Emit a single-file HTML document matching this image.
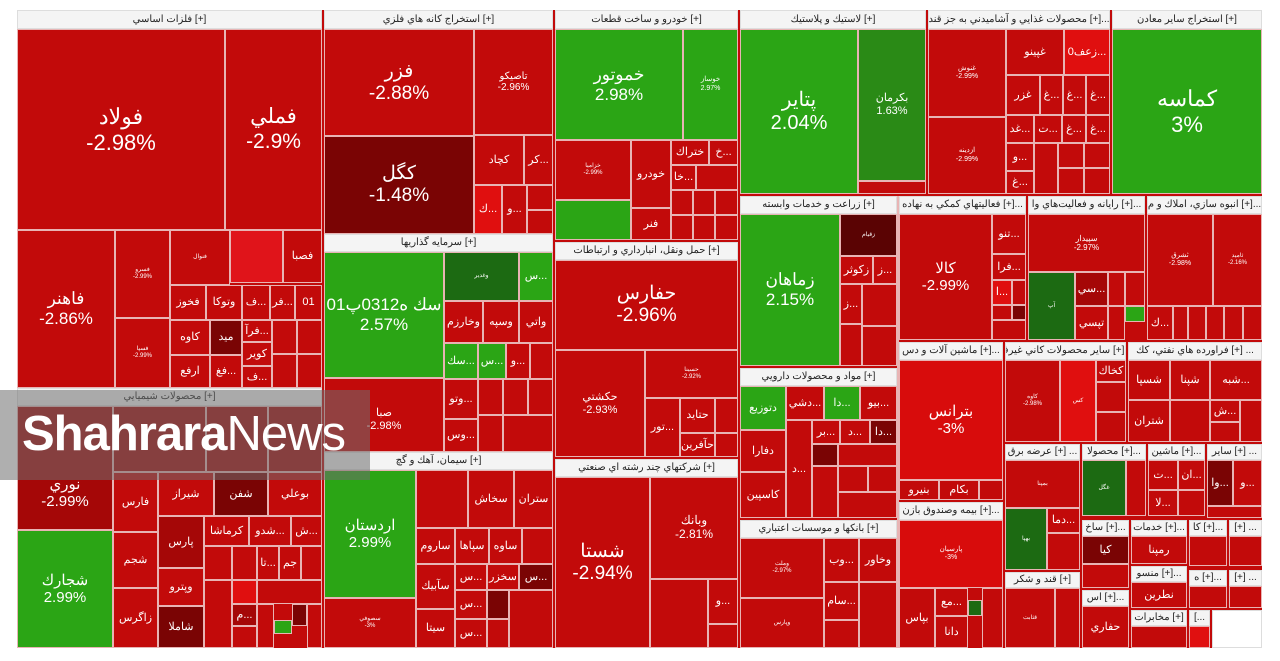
<!DOCTYPE html>
<html><head><meta charset="utf-8"><style>
body{margin:0;width:1280px;height:661px;background:#fff;position:relative;overflow:hidden;font-family:"Liberation Sans","Noto Sans CJK SC",sans-serif}
.b{position:absolute;box-sizing:border-box;border:1px solid #e8b4b4;display:flex;flex-direction:column;align-items:center;justify-content:center;color:#fff;text-align:center;overflow:hidden;line-height:1.15;font-size:11px;white-space:nowrap}
.r{background:#c20a0a}.d{background:#7a0404}.m{background:#a50707}.l{background:#e00f0f}
.g{background:#2ba515}.dg{background:#1c6a12}
.h{background:#f4f4f4;color:#222;font-size:10px;border:1px solid #ddd}
.s{position:absolute;box-sizing:border-box}
</style></head><body>
<div class="s r" style="left:17px;top:10px;width:1245px;height:638px;background:#c20a0a"></div>

<div class="b h" style="left:17px;top:10px;width:305px;height:19px">فلزات اساسي [+]</div>
<div class="b r" style="left:17px;top:29px;width:208px;height:201px;font-size:22px">فولاد<br>-2.98%</div>
<div class="b r" style="left:225px;top:29px;width:97px;height:201px;font-size:21px">فملي<br>-2.9%</div>
<div class="b r" style="left:17px;top:230px;width:98px;height:158px;font-size:17px">فاهنر<br>-2.86%</div>
<div class="b r" style="left:115px;top:230px;width:55px;height:88px;font-size:6px">فسرو<br>-2.99%</div>
<div class="b r" style="left:115px;top:318px;width:55px;height:70px;font-size:6px">فسپا<br>-2.99%</div>
<div class="b r" style="left:170px;top:230px;width:60px;height:55px;font-size:6px">فنوال</div>
<div class="b r" style="left:230px;top:230px;width:53px;height:53px;background:#e0141a"></div>
<div class="b r" style="left:283px;top:230px;width:39px;height:53px">فصبا</div>
<div class="b r" style="left:170px;top:285px;width:36px;height:35px">فخوز</div>
<div class="b r" style="left:206px;top:285px;width:36px;height:35px">وتوكا</div>
<div class="b r" style="left:242px;top:285px;width:28px;height:35px">ف...</div>
<div class="b r" style="left:270px;top:285px;width:25px;height:35px">فر...</div>
<div class="b r" style="left:295px;top:285px;width:27px;height:35px">01</div>
<div class="b r" style="left:170px;top:320px;width:40px;height:35px">كاوه</div>
<div class="b r" style="left:170px;top:355px;width:40px;height:33px">ارفع</div>
<div class="b d" style="left:210px;top:320px;width:32px;height:35px">ميد</div>
<div class="b r" style="left:210px;top:355px;width:32px;height:33px">فغ...</div>
<div class="b r" style="left:242px;top:320px;width:30px;height:22px">فرآ...</div>
<div class="b r" style="left:242px;top:342px;width:30px;height:24px">كوير</div>
<div class="b r" style="left:242px;top:366px;width:30px;height:22px">ف...</div>
<div class="b r" style="left:272px;top:320px;width:25px;height:34px"></div>
<div class="b r" style="left:297px;top:320px;width:25px;height:34px"></div>
<div class="b r" style="left:272px;top:354px;width:25px;height:34px"></div>
<div class="b r" style="left:297px;top:354px;width:25px;height:34px"></div>

<div class="b h" style="left:17px;top:388px;width:305px;height:18px">محصولات شيميايي [+]</div>
<div class="b m" style="left:17px;top:406px;width:96px;height:124px;font-size:15px;padding-top:50px">نوري<br>-2.99%</div>
<div class="b g" style="left:17px;top:530px;width:96px;height:118px;font-size:15px">شجارك<br>2.99%</div>
<div class="b m" style="left:113px;top:406px;width:93px;height:66px"></div>
<div class="b m" style="left:206px;top:406px;width:62px;height:66px"></div>
<div class="b m" style="left:268px;top:406px;width:54px;height:66px"></div>
<div class="b r" style="left:113px;top:472px;width:45px;height:60px">فارس</div>
<div class="b r" style="left:113px;top:532px;width:45px;height:56px">شجم</div>
<div class="b r" style="left:113px;top:588px;width:45px;height:60px">زاگرس</div>
<div class="b r" style="left:158px;top:472px;width:56px;height:44px">شيراز</div>
<div class="b d" style="left:214px;top:472px;width:54px;height:44px">شفن</div>
<div class="b r" style="left:268px;top:472px;width:54px;height:44px">بوعلي</div>
<div class="b m" style="left:158px;top:516px;width:46px;height:52px">پارس</div>
<div class="b r" style="left:158px;top:568px;width:46px;height:38px">وپترو</div>
<div class="b d" style="left:158px;top:606px;width:46px;height:42px">شاملا</div>
<div class="b r" style="left:204px;top:516px;width:45px;height:30px">كرماشا</div>
<div class="b r" style="left:249px;top:516px;width:42px;height:30px">شدو...</div>
<div class="b r" style="left:291px;top:516px;width:31px;height:30px">ش...</div>
<div class="b r" style="left:204px;top:546px;width:28px;height:34px"></div>
<div class="b r" style="left:232px;top:546px;width:25px;height:34px"></div>
<div class="b r" style="left:257px;top:546px;width:22px;height:34px">تا...</div>
<div class="b r" style="left:279px;top:546px;width:22px;height:34px">جم</div>
<div class="b r" style="left:301px;top:546px;width:21px;height:34px"></div>
<div class="b l" style="left:232px;top:580px;width:25px;height:24px"></div>
<div class="b r" style="left:204px;top:580px;width:28px;height:68px"></div>
<div class="b m" style="left:232px;top:604px;width:25px;height:22px">م...</div>
<div class="b r" style="left:257px;top:580px;width:65px;height:24px"></div>
<div class="b g" style="left:274px;top:620px;width:18px;height:14px"></div>
<div class="b r" style="left:232px;top:626px;width:25px;height:22px"></div>
<div class="b r" style="left:257px;top:604px;width:17px;height:44px"></div>
<div class="b d" style="left:292px;top:604px;width:15px;height:22px"></div>
<div class="b r" style="left:307px;top:604px;width:15px;height:44px"></div>

<div class="b h" style="left:324px;top:10px;width:229px;height:19px">استخراج كانه هاي فلزي [+]</div>
<div class="b r" style="left:324px;top:29px;width:150px;height:107px;font-size:19px">فزر<br>-2.88%</div>
<div class="b d" style="left:324px;top:136px;width:150px;height:98px;font-size:19px">كگل<br>-1.48%</div>
<div class="b r" style="left:474px;top:29px;width:79px;height:106px;font-size:10px">تاصيكو<br>-2.96%</div>
<div class="b r" style="left:474px;top:135px;width:50px;height:50px">كچاد</div>
<div class="b r" style="left:524px;top:135px;width:29px;height:50px">كر...</div>
<div class="b l" style="left:474px;top:185px;width:28px;height:49px">ك...</div>
<div class="b r" style="left:502px;top:185px;width:25px;height:49px">و...</div>
<div class="b r" style="left:527px;top:185px;width:26px;height:25px"></div>
<div class="b r" style="left:527px;top:210px;width:26px;height:24px"></div>

<div class="b h" style="left:324px;top:234px;width:229px;height:18px">سرمايه گذاريها [+]</div>
<div class="b g" style="left:324px;top:252px;width:120px;height:126px;font-size:17px">سك ه0312پ01<br>2.57%</div>
<div class="b r" style="left:324px;top:378px;width:120px;height:74px;font-size:11px;padding-top:10px">صبا<br>-2.98%</div>
<div class="b dg" style="left:444px;top:252px;width:75px;height:49px;font-size:6px">وغدير</div>
<div class="b g" style="left:519px;top:252px;width:34px;height:49px">س...</div>
<div class="b r" style="left:444px;top:301px;width:39px;height:42px">وخارزم</div>
<div class="b r" style="left:483px;top:301px;width:36px;height:42px">وسپه</div>
<div class="b r" style="left:519px;top:301px;width:34px;height:42px">واتي</div>
<div class="b g" style="left:444px;top:343px;width:34px;height:36px">سك...</div>
<div class="b g" style="left:478px;top:343px;width:28px;height:36px">س...</div>
<div class="b r" style="left:506px;top:343px;width:24px;height:36px">و...</div>
<div class="b r" style="left:530px;top:343px;width:23px;height:36px"></div>
<div class="b r" style="left:444px;top:379px;width:34px;height:40px">وتو...</div>
<div class="b r" style="left:444px;top:419px;width:34px;height:33px">وس...</div>
<div class="b r" style="left:478px;top:379px;width:25px;height:36px"></div>
<div class="b r" style="left:503px;top:379px;width:25px;height:36px"></div>
<div class="b r" style="left:528px;top:379px;width:25px;height:36px"></div>
<div class="b r" style="left:478px;top:415px;width:25px;height:37px"></div>
<div class="b r" style="left:503px;top:415px;width:50px;height:37px"></div>

<div class="b h" style="left:324px;top:452px;width:229px;height:18px">سيمان، آهك و گچ [+]</div>
<div class="b g" style="left:324px;top:470px;width:92px;height:128px;font-size:15px">اردستان<br>2.99%</div>
<div class="b r" style="left:324px;top:598px;width:92px;height:50px;font-size:6px">سصوفي<br>-3%</div>
<div class="b r" style="left:416px;top:470px;width:52px;height:58px"></div>
<div class="b r" style="left:468px;top:470px;width:46px;height:58px">سخاش</div>
<div class="b r" style="left:514px;top:470px;width:39px;height:58px">ستران</div>
<div class="b r" style="left:416px;top:528px;width:39px;height:36px">ساروم</div>
<div class="b r" style="left:455px;top:528px;width:34px;height:36px">سپاها</div>
<div class="b r" style="left:489px;top:528px;width:33px;height:36px">ساوه</div>
<div class="b r" style="left:522px;top:528px;width:31px;height:36px"></div>
<div class="b r" style="left:416px;top:564px;width:39px;height:45px">سآبيك</div>
<div class="b r" style="left:416px;top:609px;width:39px;height:39px">سيتا</div>
<div class="b r" style="left:455px;top:564px;width:32px;height:26px">س...</div>
<div class="b r" style="left:487px;top:564px;width:32px;height:26px">سخزر</div>
<div class="b d" style="left:519px;top:564px;width:34px;height:26px">س...</div>
<div class="b r" style="left:455px;top:590px;width:32px;height:29px">س...</div>
<div class="b d" style="left:487px;top:590px;width:22px;height:29px"></div>
<div class="b r" style="left:509px;top:590px;width:44px;height:58px"></div>
<div class="b r" style="left:455px;top:619px;width:32px;height:29px">س...</div>
<div class="b r" style="left:487px;top:619px;width:22px;height:29px"></div>

<div class="b h" style="left:555px;top:10px;width:183px;height:19px">خودرو و ساخت قطعات [+]</div>
<div class="b g" style="left:555px;top:29px;width:128px;height:111px;font-size:17px">خموتور<br>2.98%</div>
<div class="b g" style="left:683px;top:29px;width:55px;height:111px;font-size:7px">خوساز<br>2.97%</div>
<div class="b r" style="left:555px;top:140px;width:76px;height:60px;font-size:6px">خزاميا<br>-2.99%</div>
<div class="b g" style="left:555px;top:200px;width:76px;height:40px"></div>
<div class="b r" style="left:631px;top:140px;width:40px;height:68px">خودرو</div>
<div class="b r" style="left:631px;top:208px;width:40px;height:32px">فنر</div>
<div class="b r" style="left:671px;top:140px;width:38px;height:25px">ختراك</div>
<div class="b r" style="left:709px;top:140px;width:29px;height:25px">خ...</div>
<div class="b r" style="left:671px;top:165px;width:25px;height:25px">خا...</div>
<div class="b r" style="left:696px;top:165px;width:42px;height:25px"></div>
<div class="b r" style="left:671px;top:190px;width:22px;height:25px"></div>
<div class="b r" style="left:693px;top:190px;width:22px;height:25px"></div>
<div class="b r" style="left:715px;top:190px;width:23px;height:25px"></div>
<div class="b r" style="left:671px;top:215px;width:22px;height:25px"></div>
<div class="b r" style="left:693px;top:215px;width:22px;height:25px"></div>
<div class="b r" style="left:715px;top:215px;width:23px;height:25px"></div>

<div class="b h" style="left:555px;top:242px;width:183px;height:18px">حمل ونقل، انبارداري و ارتباطات [+]</div>
<div class="b r" style="left:555px;top:260px;width:183px;height:90px;font-size:19px">حفارس<br>-2.96%</div>
<div class="b r" style="left:555px;top:350px;width:90px;height:107px;font-size:11px">حكشتي<br>-2.93%</div>
<div class="b r" style="left:645px;top:350px;width:93px;height:48px;font-size:6px">حسينا<br>-2.92%</div>
<div class="b r" style="left:645px;top:398px;width:35px;height:59px">تور...</div>
<div class="b r" style="left:680px;top:398px;width:35px;height:35px">حتايد</div>
<div class="b r" style="left:715px;top:398px;width:23px;height:35px"></div>
<div class="b r" style="left:680px;top:433px;width:35px;height:24px">حآفرين</div>
<div class="b r" style="left:715px;top:433px;width:23px;height:24px"></div>

<div class="b h" style="left:555px;top:459px;width:183px;height:18px">شركتهاي چند رشته اي صنعتي [+]</div>
<div class="b r" style="left:555px;top:477px;width:95px;height:171px;font-size:19px">شستا<br>-2.94%</div>
<div class="b r" style="left:650px;top:477px;width:88px;height:102px;font-size:12px">وبانك<br>-2.81%</div>
<div class="b r" style="left:650px;top:579px;width:58px;height:69px"></div>
<div class="b r" style="left:708px;top:579px;width:30px;height:45px">و...</div>
<div class="b r" style="left:708px;top:624px;width:30px;height:24px"></div>

<div class="b h" style="left:740px;top:10px;width:186px;height:19px">لاستيك و پلاستيك [+]</div>
<div class="b g" style="left:740px;top:29px;width:118px;height:165px;font-size:20px">پتاير<br>2.04%</div>
<div class="b dg" style="left:858px;top:29px;width:68px;height:152px;font-size:11px;background:#2a8a16">بكرمان<br>1.63%</div>
<div class="b r" style="left:858px;top:181px;width:68px;height:13px"></div>

<div class="b h" style="left:740px;top:196px;width:157px;height:18px">زراعت و خدمات وابسته [+]</div>
<div class="b g" style="left:740px;top:214px;width:100px;height:152px;font-size:17px">زماهان<br>2.15%</div>
<div class="b d" style="left:840px;top:214px;width:57px;height:42px;font-size:6px;background:#5a0303">زقيام</div>
<div class="b r" style="left:840px;top:256px;width:33px;height:28px">زكوثر</div>
<div class="b r" style="left:873px;top:256px;width:24px;height:28px">ز...</div>
<div class="b r" style="left:840px;top:284px;width:22px;height:40px">ز...</div>
<div class="b r" style="left:840px;top:324px;width:22px;height:42px"></div>
<div class="b r" style="left:862px;top:284px;width:35px;height:42px"></div>
<div class="b r" style="left:862px;top:326px;width:35px;height:40px"></div>

<div class="b h" style="left:740px;top:368px;width:157px;height:18px">مواد و محصولات دارويي [+]</div>
<div class="b g" style="left:740px;top:386px;width:46px;height:44px">دتوزيع</div>
<div class="b r" style="left:740px;top:430px;width:46px;height:42px">دفارا</div>
<div class="b r" style="left:740px;top:472px;width:46px;height:46px">كاسپين</div>
<div class="b r" style="left:786px;top:386px;width:38px;height:34px">دشي...</div>
<div class="b g" style="left:824px;top:386px;width:36px;height:34px">دا...</div>
<div class="b r" style="left:860px;top:386px;width:37px;height:34px">بيو...</div>
<div class="b r" style="left:786px;top:420px;width:26px;height:98px">د...</div>
<div class="b r" style="left:812px;top:420px;width:28px;height:24px">بر...</div>
<div class="b r" style="left:840px;top:420px;width:30px;height:24px">د...</div>
<div class="b d" style="left:870px;top:420px;width:27px;height:24px">دا...</div>
<div class="b d" style="left:812px;top:444px;width:26px;height:22px"></div>
<div class="b r" style="left:838px;top:444px;width:59px;height:22px"></div>
<div class="b r" style="left:812px;top:466px;width:26px;height:52px"></div>
<div class="b r" style="left:838px;top:466px;width:30px;height:26px"></div>
<div class="b r" style="left:868px;top:466px;width:29px;height:26px"></div>
<div class="b r" style="left:838px;top:492px;width:59px;height:26px"></div>

<div class="b h" style="left:740px;top:520px;width:157px;height:18px">بانكها و موسسات اعتباري [+]</div>
<div class="b r" style="left:740px;top:538px;width:84px;height:60px;font-size:6px">وملت<br>-2.97%</div>
<div class="b r" style="left:740px;top:598px;width:84px;height:50px;font-size:6px">وپارس</div>
<div class="b r" style="left:824px;top:538px;width:35px;height:44px">وب...</div>
<div class="b r" style="left:859px;top:538px;width:38px;height:44px">وخاور</div>
<div class="b r" style="left:824px;top:582px;width:35px;height:38px">سام...</div>
<div class="b r" style="left:824px;top:620px;width:35px;height:28px"></div>
<div class="b r" style="left:859px;top:582px;width:38px;height:66px"></div>

<div class="b h" style="left:928px;top:10px;width:182px;height:19px">محصولات غذايي و آشاميدني به جز قند [+]...</div>
<div class="b r" style="left:928px;top:29px;width:78px;height:88px;font-size:7px">غنوش<br>-2.99%</div>
<div class="b r" style="left:928px;top:117px;width:78px;height:77px;font-size:7px">ازدينه<br>-2.99%</div>
<div class="b r" style="left:1006px;top:29px;width:58px;height:46px">غپينو</div>
<div class="b l" style="left:1064px;top:29px;width:46px;height:46px">زعف0...</div>
<div class="b r" style="left:1006px;top:75px;width:34px;height:40px">غزر</div>
<div class="b r" style="left:1040px;top:75px;width:23px;height:40px">غ...</div>
<div class="b r" style="left:1063px;top:75px;width:23px;height:40px">غ...</div>
<div class="b r" style="left:1086px;top:75px;width:24px;height:40px">غ...</div>
<div class="b r" style="left:1006px;top:115px;width:28px;height:28px">غد...</div>
<div class="b r" style="left:1034px;top:115px;width:28px;height:28px">ت...</div>
<div class="b r" style="left:1062px;top:115px;width:24px;height:28px">غ...</div>
<div class="b r" style="left:1086px;top:115px;width:24px;height:28px">غ...</div>
<div class="b r" style="left:1006px;top:143px;width:28px;height:28px">و...</div>
<div class="b r" style="left:1006px;top:171px;width:28px;height:23px">غ...</div>
<div class="b r" style="left:1034px;top:143px;width:24px;height:51px"></div>
<div class="b r" style="left:1058px;top:143px;width:26px;height:25px"></div>
<div class="b r" style="left:1084px;top:143px;width:26px;height:25px"></div>
<div class="b r" style="left:1058px;top:168px;width:26px;height:26px"></div>
<div class="b r" style="left:1084px;top:168px;width:26px;height:26px"></div>

<div class="b h" style="left:1112px;top:10px;width:150px;height:19px">استخراج ساير معادن [+]</div>
<div class="b g" style="left:1112px;top:29px;width:150px;height:165px;font-size:22px">كماسه<br>3%</div>

<div class="b d" style="left:897px;top:196px;width:2px;height:452px"></div>
<div class="b h" style="left:899px;top:196px;width:127px;height:18px">فعاليتهاي كمكي به نهاده [+]...</div>
<div class="b r" style="left:899px;top:214px;width:93px;height:126px;font-size:15px">كالا<br>-2.99%</div>
<div class="b r" style="left:992px;top:214px;width:34px;height:40px">تنو...</div>
<div class="b r" style="left:992px;top:254px;width:34px;height:26px">فرا...</div>
<div class="b l" style="left:992px;top:280px;width:20px;height:25px">ا...</div>
<div class="b r" style="left:1012px;top:280px;width:14px;height:25px"></div>
<div class="b r" style="left:992px;top:305px;width:20px;height:15px"></div>
<div class="b d" style="left:1012px;top:305px;width:14px;height:15px"></div>
<div class="b r" style="left:992px;top:320px;width:34px;height:20px"></div>

<div class="b h" style="left:1028px;top:196px;width:117px;height:18px">رايانه و فعاليت‌هاي وا [+]...</div>
<div class="b r" style="left:1028px;top:214px;width:117px;height:58px;font-size:8px">سپيدار<br>-2.97%</div>
<div class="b dg" style="left:1028px;top:272px;width:47px;height:68px;font-size:6px">آپ</div>
<div class="b m" style="left:1075px;top:272px;width:33px;height:34px">سي...</div>
<div class="b r" style="left:1075px;top:306px;width:33px;height:34px">تپسي</div>
<div class="b r" style="left:1108px;top:272px;width:17px;height:34px"></div>
<div class="b r" style="left:1125px;top:272px;width:20px;height:34px"></div>
<div class="b g" style="left:1125px;top:306px;width:20px;height:16px"></div>
<div class="b r" style="left:1108px;top:306px;width:17px;height:34px"></div>

<div class="b h" style="left:1147px;top:196px;width:115px;height:18px">انبوه سازي، املاك و م [+]...</div>
<div class="b r" style="left:1147px;top:214px;width:66px;height:92px;font-size:7px">ثشرق<br>-2.98%</div>
<div class="b r" style="left:1213px;top:214px;width:49px;height:92px;font-size:6px">ثاميد<br>-2.16%</div>
<div class="b r" style="left:1147px;top:306px;width:26px;height:34px">ك...</div>
<div class="b r" style="left:1173px;top:306px;width:15px;height:34px"></div>
<div class="b r" style="left:1188px;top:306px;width:18px;height:34px"></div>
<div class="b r" style="left:1206px;top:306px;width:18px;height:34px"></div>
<div class="b r" style="left:1224px;top:306px;width:19px;height:34px"></div>
<div class="b r" style="left:1243px;top:306px;width:19px;height:34px"></div>

<div class="b h" style="left:899px;top:342px;width:104px;height:18px">ماشين آلات و دس [+]...</div>
<div class="b l" style="left:899px;top:360px;width:104px;height:120px;font-size:15px;background:#d80c0c">بترانس<br>-3%</div>
<div class="b r" style="left:899px;top:480px;width:40px;height:20px">بنيرو</div>
<div class="b r" style="left:939px;top:480px;width:40px;height:20px">بكام</div>
<div class="b r" style="left:979px;top:480px;width:24px;height:20px"></div>

<div class="b h" style="left:899px;top:502px;width:104px;height:18px">بيمه وصندوق بازن [+]...</div>
<div class="b l" style="left:899px;top:520px;width:104px;height:68px;font-size:7px;background:#d80c0c">پارسيان<br>-3%</div>
<div class="b r" style="left:899px;top:588px;width:36px;height:60px">بپاس</div>
<div class="b r" style="left:935px;top:588px;width:33px;height:28px">مع...</div>
<div class="b r" style="left:935px;top:616px;width:33px;height:32px">دانا</div>
<div class="b g" style="left:968px;top:600px;width:14px;height:16px;background:#1c6a12"></div>
<div class="b r" style="left:982px;top:588px;width:21px;height:60px"></div>

<div class="b h" style="left:1005px;top:342px;width:121px;height:18px">ساير محصولات كاني غيرف [+]...</div>
<div class="b r" style="left:1005px;top:360px;width:55px;height:82px;font-size:6px">كاوه<br>-2.98%</div>
<div class="b l" style="left:1060px;top:360px;width:36px;height:82px;font-size:6px">كس</div>
<div class="b r" style="left:1096px;top:360px;width:30px;height:22px">كخاك</div>
<div class="b r" style="left:1096px;top:382px;width:30px;height:30px"></div>
<div class="b r" style="left:1096px;top:412px;width:30px;height:30px"></div>

<div class="b h" style="left:1128px;top:342px;width:134px;height:18px">فراورده هاي نفتي، كك [+] ...</div>
<div class="b r" style="left:1128px;top:360px;width:42px;height:40px">شسپا</div>
<div class="b r" style="left:1170px;top:360px;width:40px;height:40px">شپنا</div>
<div class="b r" style="left:1210px;top:360px;width:52px;height:40px">شبه...</div>
<div class="b r" style="left:1128px;top:400px;width:42px;height:42px">شتران</div>
<div class="b r" style="left:1210px;top:400px;width:30px;height:22px">ش...</div>
<div class="b r" style="left:1170px;top:400px;width:40px;height:42px"></div>
<div class="b r" style="left:1240px;top:400px;width:22px;height:42px"></div>
<div class="b r" style="left:1210px;top:422px;width:30px;height:20px"></div>

<div class="b h" style="left:1005px;top:444px;width:75px;height:16px">عرضه برق [+] ...</div>
<div class="b r" style="left:1005px;top:460px;width:75px;height:48px;font-size:6px">بمپنا</div>
<div class="b dg" style="left:1005px;top:508px;width:42px;height:62px;font-size:6px">بهپا</div>
<div class="b r" style="left:1047px;top:508px;width:33px;height:25px">دما...</div>
<div class="b r" style="left:1047px;top:533px;width:33px;height:37px"></div>
<div class="b h" style="left:1082px;top:444px;width:64px;height:16px">محصولا [+]...</div>
<div class="b dg" style="left:1082px;top:460px;width:44px;height:56px;font-size:6px">غگل</div>
<div class="b r" style="left:1126px;top:460px;width:20px;height:56px"></div>
<div class="b h" style="left:1148px;top:444px;width:57px;height:16px">ماشين [+]...</div>
<div class="b r" style="left:1148px;top:460px;width:30px;height:30px">ت...</div>
<div class="b r" style="left:1178px;top:460px;width:27px;height:30px">ان...</div>
<div class="b r" style="left:1148px;top:490px;width:30px;height:26px">لا...</div>
<div class="b r" style="left:1178px;top:490px;width:27px;height:26px"></div>
<div class="b h" style="left:1207px;top:444px;width:55px;height:16px">ساير [+] ...</div>
<div class="b d" style="left:1207px;top:460px;width:26px;height:46px">وا...</div>
<div class="b r" style="left:1233px;top:460px;width:29px;height:46px">و...</div>
<div class="b r" style="left:1207px;top:506px;width:55px;height:12px"></div>
<div class="b h" style="left:1005px;top:572px;width:75px;height:16px">قند و شكر [+]</div>
<div class="b r" style="left:1005px;top:588px;width:50px;height:60px;font-size:6px">قثابت</div>
<div class="b r" style="left:1055px;top:588px;width:25px;height:60px"></div>
<div class="b h" style="left:1082px;top:520px;width:47px;height:16px">ساخ [+]...</div>
<div class="b d" style="left:1082px;top:536px;width:47px;height:28px">كيا</div>
<div class="b r" style="left:1082px;top:564px;width:47px;height:24px"></div>
<div class="b h" style="left:1082px;top:590px;width:47px;height:16px">اس [+]...</div>
<div class="b r" style="left:1082px;top:606px;width:47px;height:42px">حفاري</div>
<div class="b h" style="left:1131px;top:520px;width:56px;height:16px">خدمات [+]...</div>
<div class="b r" style="left:1131px;top:536px;width:56px;height:28px">رمپنا</div>
<div class="b h" style="left:1131px;top:566px;width:56px;height:16px">منسو [+]...</div>
<div class="b r" style="left:1131px;top:582px;width:56px;height:26px">نطرين</div>
<div class="b h" style="left:1131px;top:610px;width:56px;height:16px">مخابرات [+]</div>
<div class="b r" style="left:1131px;top:626px;width:56px;height:22px"></div>
<div class="b h" style="left:1189px;top:520px;width:38px;height:16px">كا [+]...</div>
<div class="b r" style="left:1189px;top:536px;width:38px;height:30px"></div>
<div class="b h" style="left:1229px;top:520px;width:33px;height:16px">[+] ...</div>
<div class="b r" style="left:1229px;top:536px;width:33px;height:30px"></div>
<div class="b h" style="left:1189px;top:570px;width:38px;height:16px">ه [+]...</div>
<div class="b r" style="left:1189px;top:586px;width:38px;height:22px"></div>
<div class="b h" style="left:1229px;top:570px;width:33px;height:16px">[+] ...</div>
<div class="b r" style="left:1229px;top:586px;width:33px;height:22px"></div>
<div class="b h" style="left:1189px;top:610px;width:21px;height:16px">[...</div>
<div class="b h" style="left:1212px;top:610px;width:19px;height:16px">[...</div>
<div class="b r" style="left:1189px;top:626px;width:21px;height:22px;background:#e01010"></div>
<div class="s" style="left:1212px;top:610px;width:50px;height:38px;background:#fff;border:1px solid #ddd"></div>

<div class="s" style="left:0;top:390px;width:370px;height:90px;background:rgba(110,110,110,0.55)"></div>
<div class="s" style="left:22px;top:403px;font-size:49px;color:#fff;letter-spacing:-1px;line-height:62px;white-space:nowrap"><b>Shahrara</b>News</div>
</body></html>
